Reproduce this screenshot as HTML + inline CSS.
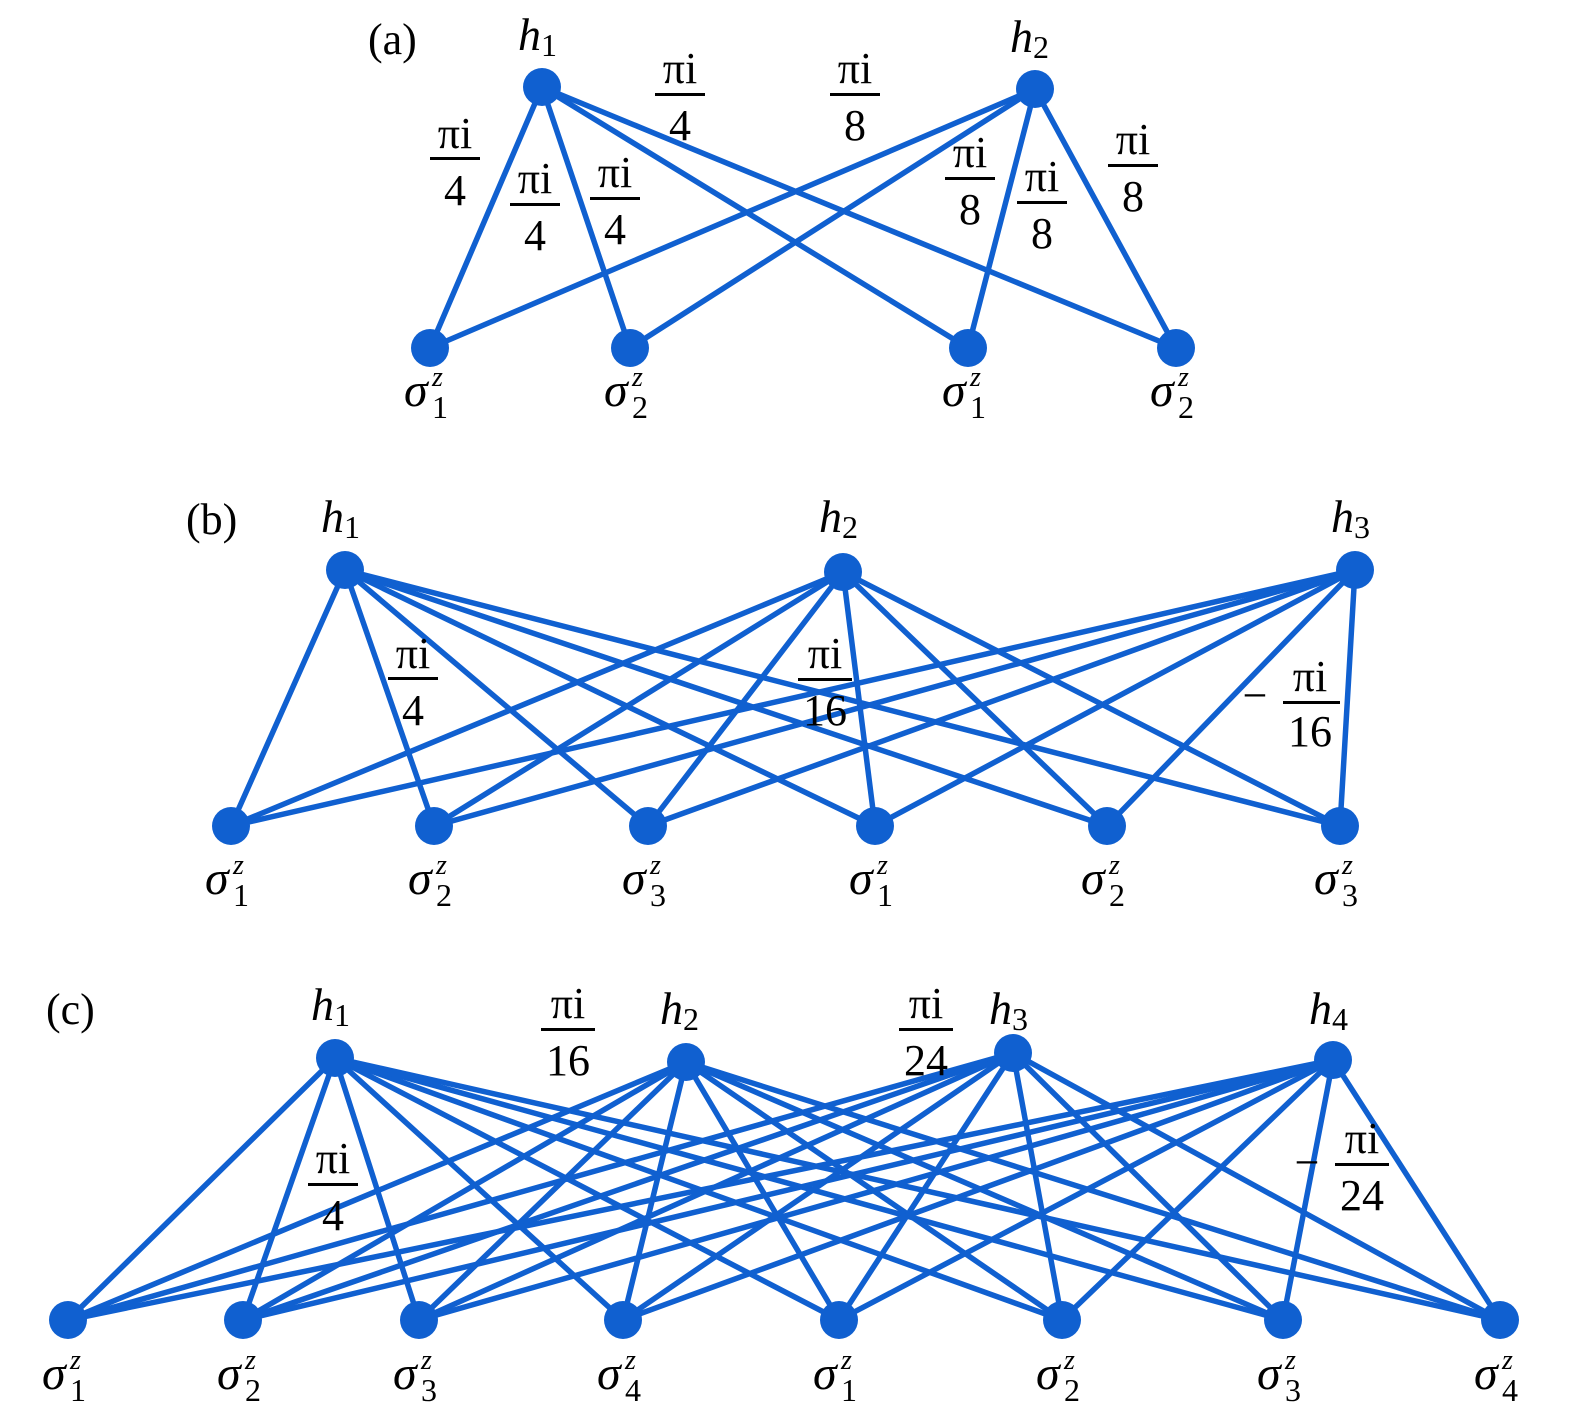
<!DOCTYPE html>
<html><head><meta charset="utf-8"><style>
html,body{margin:0;padding:0;background:#fff;}
svg{display:block;}
text{font-family:"Liberation Serif",serif;fill:#000;}
.it{font-style:italic;}
</style></head><body>
<svg width="1575" height="1427" viewBox="0 0 1575 1427" xmlns="http://www.w3.org/2000/svg">
<g stroke="#1060d0" stroke-width="5.5" fill="none" stroke-linecap="round">
<!-- (a) -->
<line x1="542" y1="87" x2="430" y2="348"/><line x1="542" y1="87" x2="630" y2="348"/><line x1="542" y1="87" x2="968" y2="348"/><line x1="542" y1="87" x2="1176" y2="348"/>
<line x1="1035" y1="89" x2="430" y2="348"/><line x1="1035" y1="89" x2="630" y2="348"/><line x1="1035" y1="89" x2="968" y2="348"/><line x1="1035" y1="89" x2="1176" y2="348"/>
<!-- (b) -->
<line x1="345" y1="570" x2="231" y2="826"/><line x1="345" y1="570" x2="434" y2="826"/><line x1="345" y1="570" x2="648" y2="826"/><line x1="345" y1="570" x2="875" y2="826"/><line x1="345" y1="570" x2="1107" y2="826"/><line x1="345" y1="570" x2="1340" y2="826"/>
<line x1="843" y1="572" x2="231" y2="826"/><line x1="843" y1="572" x2="434" y2="826"/><line x1="843" y1="572" x2="648" y2="826"/><line x1="843" y1="572" x2="875" y2="826"/><line x1="843" y1="572" x2="1107" y2="826"/><line x1="843" y1="572" x2="1340" y2="826"/>
<line x1="1355" y1="570" x2="231" y2="826"/><line x1="1355" y1="570" x2="434" y2="826"/><line x1="1355" y1="570" x2="648" y2="826"/><line x1="1355" y1="570" x2="875" y2="826"/><line x1="1355" y1="570" x2="1107" y2="826"/><line x1="1355" y1="570" x2="1340" y2="826"/>
<!-- (c) -->
<line x1="335" y1="1058" x2="68" y2="1320"/><line x1="335" y1="1058" x2="243" y2="1320"/><line x1="335" y1="1058" x2="419" y2="1320"/><line x1="335" y1="1058" x2="623" y2="1320"/><line x1="335" y1="1058" x2="839" y2="1320"/><line x1="335" y1="1058" x2="1062" y2="1320"/><line x1="335" y1="1058" x2="1283" y2="1320"/><line x1="335" y1="1058" x2="1500" y2="1320"/>
<line x1="686" y1="1062" x2="68" y2="1320"/><line x1="686" y1="1062" x2="243" y2="1320"/><line x1="686" y1="1062" x2="419" y2="1320"/><line x1="686" y1="1062" x2="623" y2="1320"/><line x1="686" y1="1062" x2="839" y2="1320"/><line x1="686" y1="1062" x2="1062" y2="1320"/><line x1="686" y1="1062" x2="1283" y2="1320"/><line x1="686" y1="1062" x2="1500" y2="1320"/>
<line x1="1013" y1="1053" x2="68" y2="1320"/><line x1="1013" y1="1053" x2="243" y2="1320"/><line x1="1013" y1="1053" x2="419" y2="1320"/><line x1="1013" y1="1053" x2="623" y2="1320"/><line x1="1013" y1="1053" x2="839" y2="1320"/><line x1="1013" y1="1053" x2="1062" y2="1320"/><line x1="1013" y1="1053" x2="1283" y2="1320"/><line x1="1013" y1="1053" x2="1500" y2="1320"/>
<line x1="1333" y1="1060" x2="68" y2="1320"/><line x1="1333" y1="1060" x2="243" y2="1320"/><line x1="1333" y1="1060" x2="419" y2="1320"/><line x1="1333" y1="1060" x2="623" y2="1320"/><line x1="1333" y1="1060" x2="839" y2="1320"/><line x1="1333" y1="1060" x2="1062" y2="1320"/><line x1="1333" y1="1060" x2="1283" y2="1320"/><line x1="1333" y1="1060" x2="1500" y2="1320"/>
</g>
<g fill="#1060d0">
<circle cx="542" cy="87" r="19"/><circle cx="1035" cy="89" r="19"/>
<circle cx="430" cy="348" r="19"/><circle cx="630" cy="348" r="19"/><circle cx="968" cy="348" r="19"/><circle cx="1176" cy="348" r="19"/>
<circle cx="345" cy="570" r="19"/><circle cx="843" cy="572" r="19"/><circle cx="1355" cy="570" r="19"/>
<circle cx="231" cy="826" r="19"/><circle cx="434" cy="826" r="19"/><circle cx="648" cy="826" r="19"/><circle cx="875" cy="826" r="19"/><circle cx="1107" cy="826" r="19"/><circle cx="1340" cy="826" r="19"/>
<circle cx="335" cy="1058" r="19"/><circle cx="686" cy="1062" r="19"/><circle cx="1013" cy="1053" r="19"/><circle cx="1333" cy="1060" r="19"/>
<circle cx="68" cy="1320" r="19"/><circle cx="243" cy="1320" r="19"/><circle cx="419" cy="1320" r="19"/><circle cx="623" cy="1320" r="19"/><circle cx="839" cy="1320" r="19"/><circle cx="1062" cy="1320" r="19"/><circle cx="1283" cy="1320" r="19"/><circle cx="1500" cy="1320" r="19"/>
</g>
<g font-size="44">
<text x="368" y="54">(a)</text><text x="186" y="534">(b)</text><text x="46" y="1024">(c)</text>
</g>
<g font-size="46">
<text x="518" y="50" class="it">h<tspan font-style="normal" font-size="32" dy="6">1</tspan></text>
<text x="1010" y="52" class="it">h<tspan font-style="normal" font-size="32" dy="6">2</tspan></text>
<text x="321" y="532" class="it">h<tspan font-style="normal" font-size="32" dy="6">1</tspan></text>
<text x="819" y="532" class="it">h<tspan font-style="normal" font-size="32" dy="6">2</tspan></text>
<text x="1331" y="532" class="it">h<tspan font-style="normal" font-size="32" dy="6">3</tspan></text>
<text x="311" y="1020" class="it">h<tspan font-style="normal" font-size="32" dy="6">1</tspan></text>
<text x="660" y="1024" class="it">h<tspan font-style="normal" font-size="32" dy="6">2</tspan></text>
<text x="989" y="1024" class="it">h<tspan font-style="normal" font-size="32" dy="6">3</tspan></text>
<text x="1309" y="1024" class="it">h<tspan font-style="normal" font-size="32" dy="6">4</tspan></text>
</g>
<g font-size="48">
<text x="404" y="406" class="it">σ</text><text x="432" y="386" font-size="28" class="it">z</text><text x="432" y="418" font-size="32">1</text>
<text x="604" y="406" class="it">σ</text><text x="632" y="386" font-size="28" class="it">z</text><text x="632" y="418" font-size="32">2</text>
<text x="942" y="406" class="it">σ</text><text x="970" y="386" font-size="28" class="it">z</text><text x="970" y="418" font-size="32">1</text>
<text x="1150" y="406" class="it">σ</text><text x="1178" y="386" font-size="28" class="it">z</text><text x="1178" y="418" font-size="32">2</text>

<text x="205" y="894" class="it">σ</text><text x="233" y="874" font-size="28" class="it">z</text><text x="233" y="906" font-size="32">1</text>
<text x="408" y="894" class="it">σ</text><text x="436" y="874" font-size="28" class="it">z</text><text x="436" y="906" font-size="32">2</text>
<text x="622" y="894" class="it">σ</text><text x="650" y="874" font-size="28" class="it">z</text><text x="650" y="906" font-size="32">3</text>
<text x="849" y="894" class="it">σ</text><text x="877" y="874" font-size="28" class="it">z</text><text x="877" y="906" font-size="32">1</text>
<text x="1081" y="894" class="it">σ</text><text x="1109" y="874" font-size="28" class="it">z</text><text x="1109" y="906" font-size="32">2</text>
<text x="1314" y="894" class="it">σ</text><text x="1342" y="874" font-size="28" class="it">z</text><text x="1342" y="906" font-size="32">3</text>

<text x="42" y="1389" class="it">σ</text><text x="70" y="1369" font-size="28" class="it">z</text><text x="70" y="1401" font-size="32">1</text>
<text x="217" y="1389" class="it">σ</text><text x="245" y="1369" font-size="28" class="it">z</text><text x="245" y="1401" font-size="32">2</text>
<text x="393" y="1389" class="it">σ</text><text x="421" y="1369" font-size="28" class="it">z</text><text x="421" y="1401" font-size="32">3</text>
<text x="597" y="1389" class="it">σ</text><text x="625" y="1369" font-size="28" class="it">z</text><text x="625" y="1401" font-size="32">4</text>
<text x="813" y="1389" class="it">σ</text><text x="841" y="1369" font-size="28" class="it">z</text><text x="841" y="1401" font-size="32">1</text>
<text x="1036" y="1389" class="it">σ</text><text x="1064" y="1369" font-size="28" class="it">z</text><text x="1064" y="1401" font-size="32">2</text>
<text x="1257" y="1389" class="it">σ</text><text x="1285" y="1369" font-size="28" class="it">z</text><text x="1285" y="1401" font-size="32">3</text>
<text x="1474" y="1389" class="it">σ</text><text x="1502" y="1369" font-size="28" class="it">z</text><text x="1502" y="1401" font-size="32">4</text>
</g>
<g font-size="44" text-anchor="middle">
<text x="455" y="148">πi</text><rect x="430" y="157" width="50" height="3"/><text x="455" y="205">4</text>
<text x="535" y="193">πi</text><rect x="510" y="203" width="50" height="3"/><text x="535" y="250">4</text>
<text x="615" y="187">πi</text><rect x="590" y="197" width="50" height="3"/><text x="615" y="244">4</text>
<text x="680" y="83">πi</text><rect x="655" y="93" width="50" height="3"/><text x="680" y="140">4</text>
<text x="855" y="83">πi</text><rect x="830" y="93" width="50" height="3"/><text x="855" y="140">8</text>
<text x="970" y="167">πi</text><rect x="945" y="177" width="50" height="3"/><text x="970" y="224">8</text>
<text x="1042" y="191">πi</text><rect x="1017" y="201" width="50" height="3"/><text x="1042" y="248">8</text>
<text x="1133" y="154">πi</text><rect x="1108" y="164" width="50" height="3"/><text x="1133" y="211">8</text>

<text x="413" y="668">πi</text><rect x="388" y="677" width="50" height="3"/><text x="413" y="725">4</text>
<text x="825" y="668">πi</text><rect x="798" y="678" width="54" height="3"/><text x="825" y="725">16</text>
<text x="1255" y="710">−</text>
<text x="1310" y="691">πi</text><rect x="1283" y="701" width="57" height="3"/><text x="1310" y="746">16</text>

<text x="568" y="1018">πi</text><rect x="541" y="1028" width="54" height="3"/><text x="568" y="1075">16</text>
<text x="926" y="1018">πi</text><rect x="899" y="1028" width="54" height="3"/><text x="926" y="1075">24</text>
<text x="333" y="1173">πi</text><rect x="308" y="1183" width="50" height="3"/><text x="333" y="1230">4</text>
<text x="1307" y="1177">−</text>
<text x="1362" y="1153">πi</text><rect x="1335" y="1163" width="54" height="3"/><text x="1362" y="1210">24</text>
</g>
</svg>
</body></html>
